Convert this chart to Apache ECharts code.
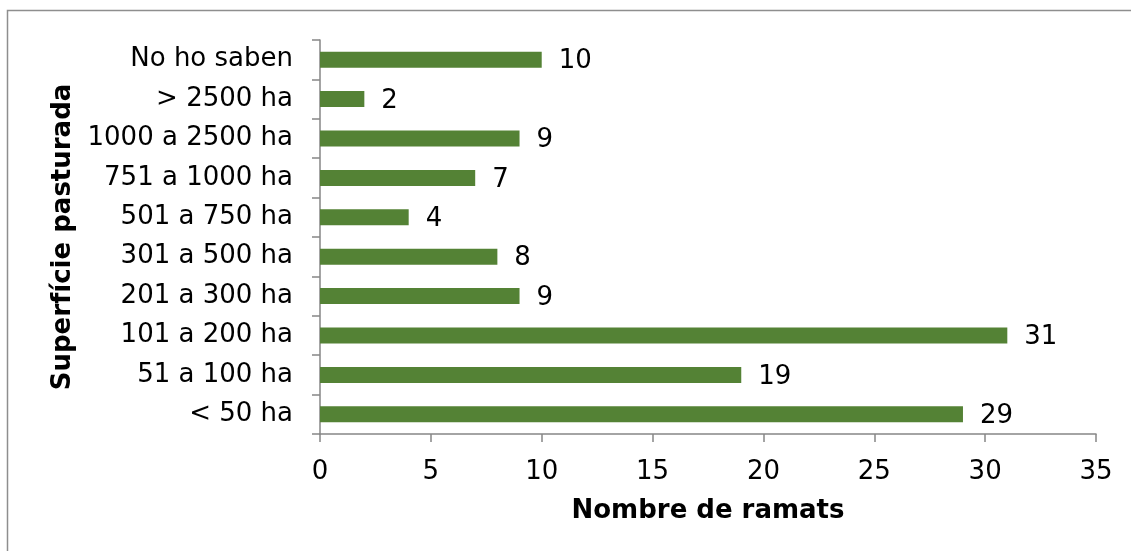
<!DOCTYPE html>
<html>
<head>
<meta charset="utf-8">
<script src="https://cdn.jsdelivr.net/npm/echarts@6/dist/echarts.min.js"></script>
<style>
html,body{margin:0;padding:0;background:#fff;}
#c{width:1131px;height:551px;}
</style>
</head>
<body>
<div id="c"></div>
<script>
// categories listed bottom to top
var categories = ['< 50 ha','51 a 100 ha','101 a 200 ha','201 a 300 ha','301 a 500 ha','501 a 750 ha','751 a 1000 ha','1000 a 2500 ha','> 2500 ha','No ho saben'];
var values = [29, 19, 31, 9, 8, 4, 7, 9, 2, 10];
var xTicks = [0, 5, 10, 15, 20, 25, 30, 35];

var chart = echarts.init(document.getElementById('c'), null, {renderer:'canvas'});
var font = 'DejaVu Sans, Verdana, sans-serif';
chart.setOption({
  animation: false,
  backgroundColor: '#fff',
  textStyle: {fontFamily: font},
  graphic: [{
    type: 'polyline',
    shape: {points: [[7.5, 700], [7.5, 10.5], [1300, 10.5]]},
    style: {fill: 'none', stroke: '#8e8e8e', lineWidth: 1.5},
    silent: true, z: -1
  }],
  grid: {left: 320, right: 35, top: 40, bottom: 117, containLabel: false},
  xAxis: {
    type: 'value',
    min: xTicks[0], max: xTicks[xTicks.length-1], interval: 5,
    name: 'Nombre de ramats',
    nameLocation: 'middle', nameGap: 64,
    nameTextStyle: {fontFamily: font, fontSize: 26, fontWeight: 'bold', color: '#000'},
    axisLine: {show: true, lineStyle: {color: '#868686', width: 1.5}},
    axisTick: {show: true, length: 8, lineStyle: {color: '#868686', width: 1.5}},
    axisLabel: {fontFamily: font, fontSize: 26, color: '#000', margin: 25},
    splitLine: {show: false}
  },
  yAxis: {
    type: 'category',
    data: categories,
    name: 'Superfície pasturada',
    nameLocation: 'middle', nameGap: 243, nameRotate: 90,
    nameTextStyle: {fontFamily: font, fontSize: 26, fontWeight: 'bold', color: '#000'},
    axisLine: {show: true, lineStyle: {color: '#868686', width: 1.5}},
    axisTick: {show: true, length: 8, lineStyle: {color: '#868686', width: 1.5}},
    axisLabel: {fontFamily: font, fontSize: 26, color: '#000', margin: 27}
  },
  series: [{
    type: 'bar',
    data: values,
    barWidth: 16,
    itemStyle: {color: '#548235'},
    label: {show: true, position: 'right', distance: 17, offset: [0, 2], fontFamily: font, fontSize: 26, color: '#000'}
  }]
});
</script>
</body>
</html>
